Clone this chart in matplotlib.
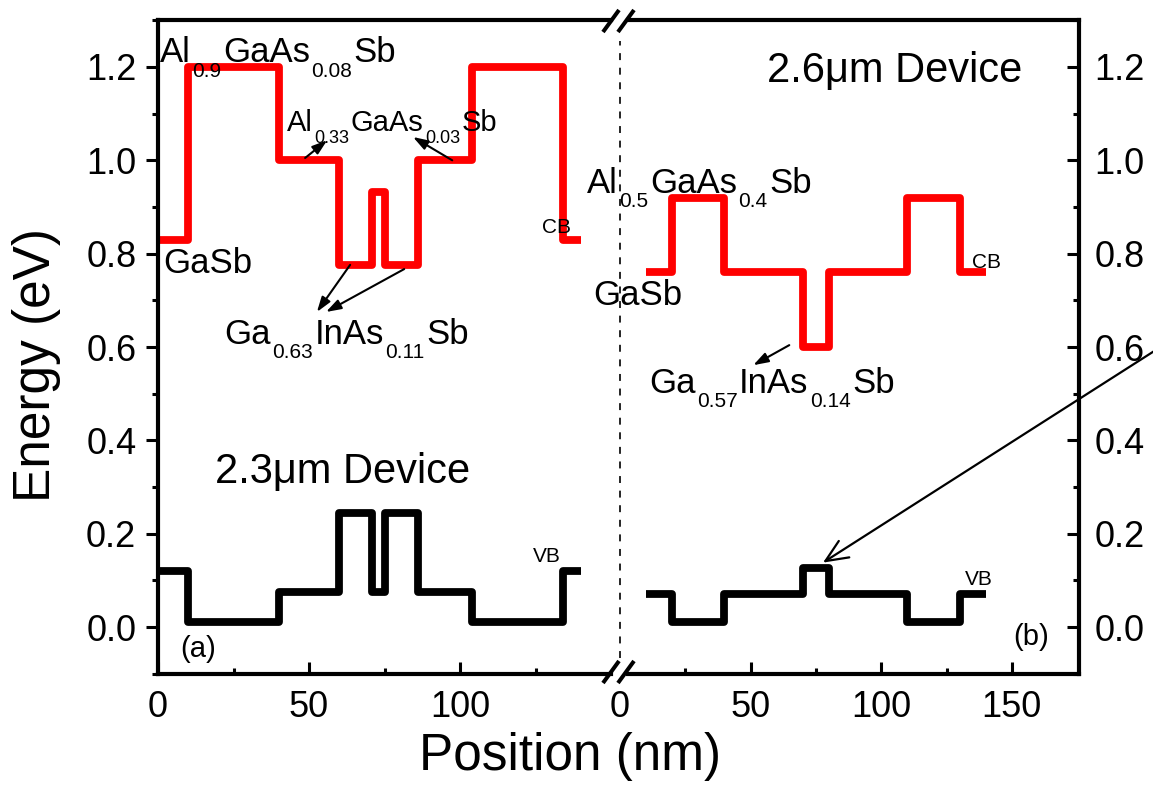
import matplotlib
matplotlib.use("Agg")
import matplotlib.pyplot as plt
import matplotlib.transforms as mtransforms
from matplotlib.lines import Line2D
from matplotlib.ticker import MultipleLocator, FixedLocator

plt.rcParams["font.family"] = ["Liberation Sans", "DejaVu Sans"]
plt.rcParams["lines.scale_dashes"] = False

# ---- band-edge profiles (layer boundaries in nm, band energies in eV) ----
dev_a_edges = [0, 10, 40, 60, 71, 75, 86, 104, 134, 140]
dev_a_cb = [0.83, 1.20, 1.00, 0.776, 0.933, 0.776, 1.00, 1.20, 0.83]
dev_a_vb = [0.12, 0.01, 0.074, 0.244, 0.074, 0.244, 0.074, 0.01, 0.12]

dev_b_edges = [10, 20, 40, 70, 80, 110, 130, 140]
dev_b_cb = [0.76, 0.92, 0.76, 0.60, 0.76, 0.92, 0.76]
dev_b_vb = [0.07, 0.01, 0.07, 0.126, 0.07, 0.01, 0.07]

energy_ticks = [0.0, 0.2, 0.4, 0.6, 0.8, 1.0, 1.2]
energy_labels = ["0.0", "0.2", "0.4", "0.6", "0.8", "1.0", "1.2"]
pos_ticks_a = [0, 50, 100]
pos_ticks_b = [0, 50, 100, 150]

W, H = 1153, 786
fig = plt.figure(figsize=(W / 100, H / 100), dpi=100)


def box(x0, x1, ytop, ybot):
    return [x0 / W, 1 - ybot / H, (x1 - x0) / W, (ybot - ytop) / H]


ax1 = fig.add_axes(box(158, 619, 20.3, 673.7))
ax2 = fig.add_axes(box(619, 1079, 20.3, 673.7))
for ax in (ax1, ax2):
    ax.set_facecolor("none")
    ax.set_ylim(-0.1, 1.3)
    for sp in ax.spines.values():
        sp.set_linewidth(3)
ax1.set_xlim(0, 152.6)
ax2.set_xlim(-0.38, 175.7)
ax1.spines["right"].set_visible(False)
ax2.spines["left"].set_visible(False)
# broken axis: leave a gap in the frame around the break
for side in ("top", "bottom"):
    ax1.spines[side].set_bounds(0, 150.0)
    ax2.spines[side].set_bounds(3.1, 175.7)

# ---- bands ----
lw = 5.6
for ax, edges, cb, vb in [(ax1, dev_a_edges, dev_a_cb, dev_a_vb),
                          (ax2, dev_b_edges, dev_b_cb, dev_b_vb)]:
    ax.stairs(cb, edges, baseline=None, color="#ff0000", lw=lw,
              joinstyle="round", capstyle="butt")
    ax.stairs(vb, edges, baseline=None, color="black", lw=lw,
              joinstyle="round", capstyle="butt")

# ---- ticks ----
tick_fs = 26
ax1.set_yticks(energy_ticks, energy_labels)
ax1.yaxis.set_minor_locator(MultipleLocator(0.1))
ax1.tick_params(axis="y", which="both", direction="out", left=True, right=False,
                width=2.2, labelsize=tick_fs, pad=7)
ax1.tick_params(axis="y", which="major", length=8.6)
ax1.tick_params(axis="y", which="minor", length=4.3)

ax2.yaxis.tick_right()
ax2.set_yticks(energy_ticks, energy_labels)
ax2.yaxis.set_minor_locator(MultipleLocator(0.1))
ax2.tick_params(axis="y", which="both", direction="in", left=False, right=True,
                labelleft=False, labelright=True, width=2.2, labelsize=tick_fs, pad=11)
ax2.tick_params(axis="y", which="major", length=8.6)
ax2.tick_params(axis="y", which="minor", length=4.3)

ax1.set_xticks(pos_ticks_a, [str(v) for v in pos_ticks_a])
ax1.xaxis.set_minor_locator(FixedLocator([25, 75, 125]))
ax2.set_xticks(pos_ticks_b, [str(v) for v in pos_ticks_b])
ax2.xaxis.set_minor_locator(FixedLocator([25, 75, 125]))
for ax in (ax1, ax2):
    ax.tick_params(axis="x", which="both", direction="in", bottom=True, top=False,
                   width=2.2, labelsize=tick_fs, pad=12)
    ax.tick_params(axis="x", which="major", length=8.6)
    ax.tick_params(axis="x", which="minor", length=4.3)
ax2.xaxis.get_major_ticks()[0].tick1line.set_visible(False)

# dashed separator at the start of the second device
ax2.plot([0, 0], [-0.066, 1.255], color="black", lw=1.2, ls=(0, (5, 5.5)))

# break marks on the frame
for cy in (21, 672):
    for cx in (611, 626):
        fig.add_artist(Line2D([(cx - 8) / W, (cx + 8) / W],
                              [1 - (cy + 11) / H, 1 - (cy - 11) / H],
                              transform=fig.transFigure, color="black", lw=2.9,
                              solid_capstyle="butt"))

# ---- text ----
renderer = fig.canvas.get_renderer()


def formula(ax, x, y, parts, size=25, sub_size=15, drop=14):
    dx = 0.0
    for s, is_sub in parts:
        tr = mtransforms.offset_copy(ax.transData, fig=fig, x=dx,
                                     y=-drop if is_sub else 0, units="dots")
        t = ax.text(x, y, s, fontsize=sub_size if is_sub else size,
                    transform=tr, ha="left", va="baseline", zorder=5)
        dx += t.get_window_extent(renderer=renderer).width + 1.5


formula(ax1, 0.66, 1.211, [("Al", 0), ("0.9", 1), ("GaAs", 0), ("0.08", 1), ("Sb", 0)],
        drop=15)
formula(ax1, 42.7, 1.063, [("Al", 0), ("0.33", 1), ("GaAs", 0), ("0.03", 1), ("Sb", 0)],
        size=21, sub_size=13, drop=12)
formula(ax1, 21.9, 0.606, [("Ga", 0), ("0.63", 1), ("InAs", 0), ("0.11", 1), ("Sb", 0)])
formula(ax2, -12.6, 0.930, [("Al", 0), ("0.5", 1), ("GaAs", 0), ("0.4", 1), ("Sb", 0)])
formula(ax2, 11.1, 0.501, [("Ga", 0), ("0.57", 1), ("InAs", 0), ("0.14", 1), ("Sb", 0)])

ax1.text(1.66, 0.759, "GaSb", fontsize=25, va="baseline")
ax2.text(-10.3, 0.690, "GaSb", fontsize=25, va="baseline")
ax1.text(127.2, 0.844, "CB", fontsize=15, va="baseline", zorder=5)
ax2.text(134.7, 0.769, "CB", fontsize=15, va="baseline", zorder=5)
ax1.text(124.2, 0.139, "VB", fontsize=15, va="baseline")
ax2.text(132.0, 0.090, "VB", fontsize=15, va="baseline")
ax1.text(18.9, 0.3085, "2.3\u03bcm Device", fontsize=30, va="baseline")
ax2.text(56.3, 1.168, "2.6\u03bcm Device", fontsize=30, va="baseline")
ax1.text(7.3, -0.064, "(a)", fontsize=21, va="baseline")
ax2.text(150.4, -0.039, "(b)", fontsize=21, va="baseline")

# ---- pointer arrows ----
small = dict(arrowstyle="-|>,head_length=0.6,head_width=0.2", mutation_scale=15,
             lw=1.5, color="black", shrinkA=0, shrinkB=0)
for ax, tail, head in [
    (ax1, (48.7, 1.005), (56.0, 1.043)),
    (ax1, (97.4, 1.000), (84.4, 1.050)),
    (ax1, (63.6, 0.776), (52.6, 0.675)),
    (ax1, (81.5, 0.767), (55.6, 0.675)),
    (ax2, (64.8, 0.604), (51.0, 0.561)),
]:
    ax.annotate("", xy=head, xytext=tail, arrowprops=small, annotation_clip=False)

ax2.annotate("", xy=(77.7, 0.138), xytext=(208.6, 0.606), annotation_clip=False,
             arrowprops=dict(arrowstyle="->,head_length=0.8,head_width=0.35",
                             mutation_scale=20, lw=1.6, color="black",
                             shrinkA=0, shrinkB=0))

# ---- axis titles ----
fig.text(37 / W, 1 - 365 / H, "Energy (eV)", rotation=90, fontsize=37,
         ha="center", va="center")
fig.text(570 / W, 1 - 770 / H, "Position (nm)", fontsize=37,
         ha="center", va="baseline")

fig.savefig("out.png", dpi=100)
